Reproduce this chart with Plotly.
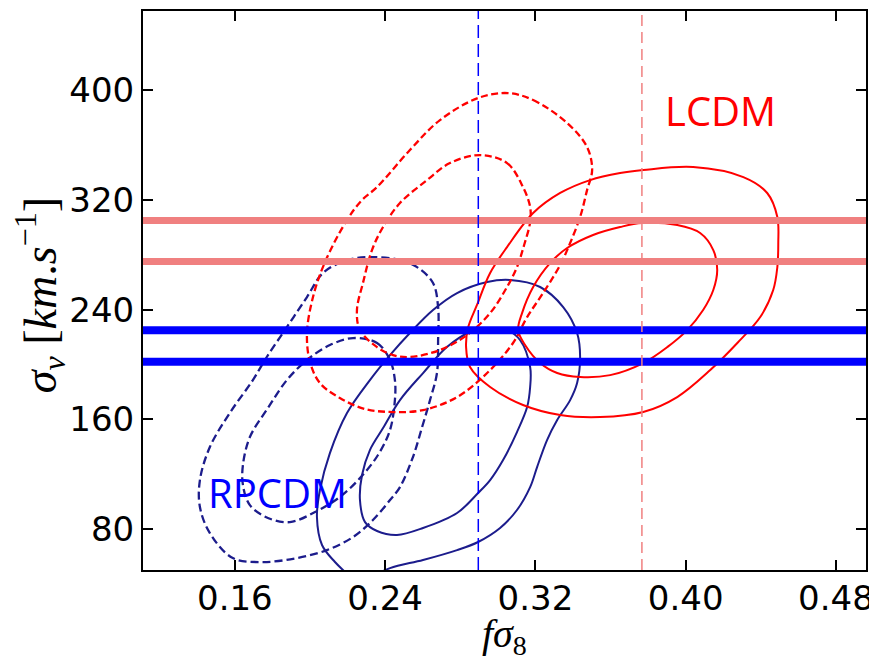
import plotly.graph_objects as go

# ---------------- data ----------------
x_ticks = [0.16, 0.24, 0.32, 0.40, 0.48]
x_tick_labels = ["0.16", "0.24", "0.32", "0.40", "0.48"]
y_ticks = [80, 160, 240, 320, 400]
y_tick_labels = ["80", "160", "240", "320", "400"]

# LCDM dashed contours (red)
lcdm_dash_outer_x = [0.3054, 0.3188, 0.3369, 0.3475, 0.3502, 0.3475, 0.3438, 0.3369, 0.3332, 0.3241,
                     0.3156, 0.3081, 0.2943, 0.2783, 0.2602, 0.2442, 0.2293, 0.2159, 0.2053, 0.2000,
                     0.1984, 0.2016, 0.2080, 0.2197, 0.2277, 0.2357, 0.2532, 0.2692, 0.2895]
lcdm_dash_outer_y = [397.8, 392.7, 376.0, 358.5, 341.7, 327.1, 307.5, 283.4, 272.5, 252.1,
                     234.6, 215.7, 193.8, 176.3, 166.8, 165.4, 167.6, 175.6, 186.5, 201.8,
                     223.0, 249.2, 274.7, 305.3, 319.9, 329.3, 356.3, 378.1, 394.2]
lcdm_dash_inner_x = [0.2905, 0.3049, 0.3134, 0.3172, 0.3172, 0.3140, 0.3102, 0.3049, 0.2959, 0.2836,
                     0.2692, 0.2532, 0.2442, 0.2357, 0.2266, 0.2250, 0.2282, 0.2330, 0.2389, 0.2479,
                     0.2623, 0.2745]
lcdm_dash_inner_y = [352.6, 346.8, 329.3, 314.8, 303.8, 287.1, 271.0, 256.5, 237.5, 221.5,
                     210.6, 205.5, 206.9, 212.7, 225.1, 239.7, 259.4, 283.4, 300.2, 317.7,
                     334.4, 346.8]

# LCDM solid contours (red)
lcdm_solid_outer_x = [0.4040, 0.4307, 0.4434, 0.4488, 0.4493, 0.4488, 0.4466, 0.4397, 0.4275, 0.4131,
                      0.3955, 0.3774, 0.3545, 0.3332, 0.3134, 0.2959, 0.2852, 0.2831, 0.2841, 0.2889,
                      0.2959, 0.3049, 0.3188, 0.3332, 0.3491, 0.3651, 0.3774]
lcdm_solid_outer_y = [343.9, 336.6, 325.0, 307.5, 288.5, 271.0, 254.3, 234.6, 215.7, 196.0,
                      176.3, 165.4, 161.7, 163.2, 170.5, 183.6, 198.2, 212.7, 226.6, 243.4,
                      266.7, 285.6, 310.4, 325.0, 334.4, 339.5, 341.7]
lcdm_solid_inner_x = [0.3768, 0.3955, 0.4077, 0.4147, 0.4168, 0.4147, 0.4093, 0.4008, 0.3902, 0.3774,
                      0.3598, 0.3438, 0.3316, 0.3225, 0.3145, 0.3108, 0.3129, 0.3188, 0.3278, 0.3369,
                      0.3507, 0.3651]
lcdm_solid_inner_y = [303.1, 301.6, 295.8, 283.4, 268.9, 254.3, 239.7, 225.1, 212.7, 201.1,
                      192.3, 190.9, 193.8, 201.1, 214.2, 225.1, 237.5, 256.5, 273.9, 284.9,
                      294.4, 300.2]

# RPCDM dashed contours (navy)
rp_dash_outer_x = [0.2335, 0.2479, 0.2570, 0.2655, 0.2682, 0.2682, 0.2676, 0.2639, 0.2597, 0.2548,
                   0.2479, 0.2426, 0.2335, 0.2229, 0.2090, 0.1930, 0.1749, 0.1589, 0.1467, 0.1414,
                   0.1414, 0.1467, 0.1573, 0.1696, 0.1770, 0.1877, 0.1984, 0.2069, 0.2197]
rp_dash_outer_y = [278.3, 276.1, 271.0, 259.4, 241.9, 217.9, 193.8, 174.1, 154.5, 132.6,
                   110.7, 101.3, 86.7, 74.3, 64.8, 59.0, 56.1, 59.0, 77.2, 96.2,
                   115.8, 139.9, 164.7, 188.7, 205.5, 227.3, 249.2, 266.7, 276.1]
rp_dash_inner_x = [0.2229, 0.2357, 0.2426, 0.2452, 0.2452, 0.2426, 0.2362, 0.2266, 0.2159, 0.2027,
                   0.1893, 0.1776, 0.1680, 0.1643, 0.1643, 0.1680, 0.1776, 0.1877, 0.1984, 0.2106]
rp_dash_inner_y = [219.3, 215.7, 203.3, 188.7, 174.1, 152.3, 134.1, 117.3, 103.5, 92.5,
                   85.2, 88.2, 97.6, 112.2, 126.8, 147.2, 168.3, 188.7, 203.3, 214.2]

# RPCDM solid contours (navy); the outer one runs below the lower axis limit
rp_solid_outer_x = [0.2223, 0.2133, 0.2064, 0.2037, 0.2053, 0.2106, 0.2197, 0.2319, 0.2426, 0.2532,
                    0.2655, 0.2783, 0.2943, 0.3065, 0.3225, 0.3348, 0.3422, 0.3438, 0.3422, 0.3385,
                    0.3316, 0.3262, 0.3209, 0.3172, 0.3102, 0.3012, 0.2895, 0.2783, 0.2602, 0.2426,
                    0.2319]
rp_solid_outer_y = [44.4, 56.1, 68.5, 88.9, 108.6, 135.5, 164.7, 188.7, 206.9, 223.0,
                    239.7, 252.1, 260.1, 261.6, 256.5, 241.9, 223.0, 205.5, 186.5, 174.1,
                    159.6, 145.0, 125.3, 110.7, 94.0, 80.9, 70.7, 64.8, 57.6, 51.7,
                    44.4]
rp_solid_inner_x = [0.2959, 0.3049, 0.3118, 0.3172, 0.3172, 0.3156, 0.3102, 0.3028, 0.2959, 0.2895,
                    0.2783, 0.2602, 0.2463, 0.2357, 0.2293, 0.2266, 0.2277, 0.2319, 0.2389, 0.2479,
                    0.2602, 0.2729, 0.2852]
rp_solid_inner_y = [226.6, 225.1, 217.9, 198.2, 183.6, 169.0, 150.8, 130.4, 115.8, 106.4,
                    91.8, 80.9, 75.8, 78.7, 85.2, 101.3, 119.5, 137.7, 153.7, 174.1,
                    193.8, 212.7, 223.7]

# reference bands / lines
lcdm_sigma_v_band = [275.0, 305.0]
rpcdm_sigma_v_band = [202.0, 225.0]
rpcdm_fs8 = 0.2896
lcdm_fs8 = 0.3767

x_range = [0.1111, 0.496]
y_range = [50.3, 457.6]

RED = "#ff0000"
NAVY = "#1c1c8c"
LIGHTRED = "#f08080"
BLUE = "#0000ff"


def closed(xs, ys):
    return list(xs) + [xs[0]], list(ys) + [ys[0]]


fig = go.Figure()


def add_curve(xs, ys, color, dash, width, close=True):
    if close:
        xs, ys = closed(xs, ys)
    fig.add_trace(go.Scatter(x=xs, y=ys, mode="lines",
                             line=dict(color=color, width=width, dash=dash,
                                       shape="spline", smoothing=1.0),
                             hoverinfo="skip", showlegend=False))


add_curve(rp_dash_outer_x, rp_dash_outer_y, NAVY, "8px,4px", 2.3)
add_curve(rp_dash_inner_x, rp_dash_inner_y, NAVY, "8px,4px", 2.3)
add_curve(rp_solid_outer_x, rp_solid_outer_y, NAVY, "solid", 2.0, close=False)
add_curve(rp_solid_inner_x, rp_solid_inner_y, NAVY, "solid", 2.0)
add_curve(lcdm_dash_outer_x, lcdm_dash_outer_y, RED, "7px,3.5px", 2.3)
add_curve(lcdm_dash_inner_x, lcdm_dash_inner_y, RED, "7px,3.5px", 2.3)
add_curve(lcdm_solid_outer_x, lcdm_solid_outer_y, RED, "solid", 2.0)
add_curve(lcdm_solid_inner_x, lcdm_solid_inner_y, RED, "solid", 2.0)

# horizontal bands
for yv in lcdm_sigma_v_band:
    fig.add_trace(go.Scatter(x=x_range, y=[yv, yv], mode="lines",
                             line=dict(color=LIGHTRED, width=7),
                             hoverinfo="skip", showlegend=False))
for yv in rpcdm_sigma_v_band:
    fig.add_trace(go.Scatter(x=x_range, y=[yv, yv], mode="lines",
                             line=dict(color=BLUE, width=8),
                             hoverinfo="skip", showlegend=False))

# vertical dashed lines
fig.add_trace(go.Scatter(x=[rpcdm_fs8, rpcdm_fs8], y=y_range, mode="lines",
                         line=dict(color=BLUE, width=1.5, dash="13px,6px"),
                         hoverinfo="skip", showlegend=False))
fig.add_trace(go.Scatter(x=[lcdm_fs8, lcdm_fs8], y=y_range, mode="lines",
                         line=dict(color=LIGHTRED, width=1.5, dash="11px,6px"),
                         hoverinfo="skip", showlegend=False))

fig.add_annotation(x=0.4184, y=385.4, text="LCDM", showarrow=False,
                   font=dict(family="Open Sans", size=40, color=RED),
                   xanchor="center", yanchor="middle")
fig.add_annotation(x=0.1829, y=107.1, text="RPCDM", showarrow=False,
                   font=dict(family="Open Sans", size=40, color=BLUE),
                   xanchor="center", yanchor="middle")

# axis titles
fig.add_annotation(xref="paper", yref="paper", x=0.5, y=-0.118,
                   text="<i>fσ</i><sub>8</sub>", showarrow=False,
                   font=dict(family="Liberation Serif", size=40, color="black"),
                   xanchor="center", yanchor="middle")
fig.add_annotation(xref="paper", yref="paper", x=-0.142, y=0.492,
                   text="<i>σ<sub>v</sub></i> [<i>km</i>.<i>s</i><sup>−1</sup>]",
                   showarrow=False, textangle=-90,
                   font=dict(family="Liberation Serif", size=46, color="black"),
                   xanchor="center", yanchor="middle")

axis_common = dict(showline=True, linecolor="black", linewidth=2, mirror="allticks",
                   ticks="inside", ticklen=10, tickwidth=1.5, tickcolor="black",
                   showgrid=False, zeroline=False, automargin=False,
                   tickfont=dict(family="DejaVu Sans", size=34, color="black"))

fig.update_xaxes(range=x_range, tickvals=x_ticks, ticktext=x_tick_labels,
                 ticklabelstandoff=-3, **axis_common)
fig.update_yaxes(range=y_range, tickvals=y_ticks, ticktext=y_tick_labels,
                 ticklabelstandoff=0, **axis_common)

# the page adds an 8px body margin, so the figure is sized to fit the window
fig.update_layout(width=869, height=657,
                  margin=dict(l=135, r=11, t=3, b=95),
                  paper_bgcolor="white", plot_bgcolor="white",
                  showlegend=False)

fig.write_html("out.html")
